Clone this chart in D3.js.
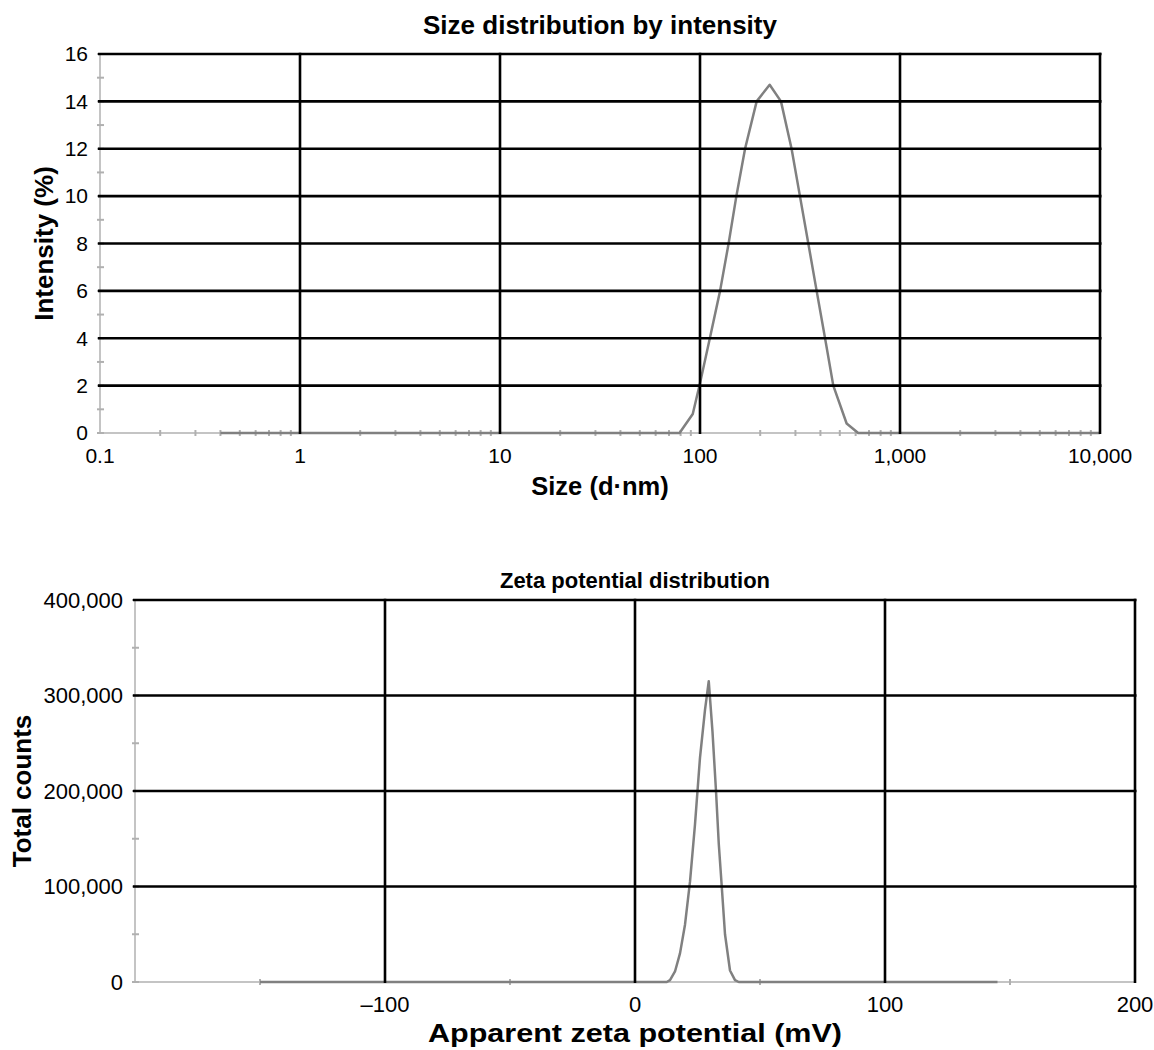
<!DOCTYPE html>
<html>
<head>
<meta charset="utf-8">
<script src="https://cdn.jsdelivr.net/npm/d3@7"></script>
<style>
  body { margin: 0; background: #fff; }
  text { font-family: "Liberation Sans", Arial, sans-serif; fill: #000; }
</style>
</head>
<body>
<script>
const width = 1154,
  height = 1050;

// size distribution by intensity
const sizeNm = [0.4, 79, 92, 100, 112, 126, 139, 152, 168, 192, 223, 254, 287, 316, 348, 383, 422, 464, 541, 618, 10000];
const intensity = [0, 0, 0.8, 2.1, 4.0, 6.0, 8.0, 10.0, 12.0, 14.0, 14.7, 14.0, 12.0, 10.0, 8.0, 6.0, 4.0, 2.0, 0.4, 0, 0];
const sizeTicks = [0.1, 1, 10, 100, 1000, 10000];
const intensityTicks = [0, 2, 4, 6, 8, 10, 12, 14, 16];
const intensityMinor = [1, 3, 5, 7, 9, 11, 13, 15];

// zeta potential distribution
const zetaMv = [-150, 12.7, 14, 16, 18, 20, 22, 24, 26, 28, 29.5, 31, 32.4, 33.5, 34.7, 36, 38, 40, 41.5, 145];
const zetaCounts = [0, 0, 2000, 11000, 30000, 60000, 105000, 165000, 235000, 285000, 315000, 262000, 200000, 145000, 100000, 50000, 12000, 2000, 0, 0];
const zetaTicks = [-200, -100, 0, 100, 200];
const zetaMinor = [-150, -50, 50, 150];
const countTicks = [0, 100000, 200000, 300000, 400000];
const countMinor = [50000, 150000, 250000, 350000];

const svg = d3
  .select("body")
  .append("svg")
  .attr("width", width)
  .attr("height", height);

function drawPanel(p) {
  const g = svg.append("g");
  const x = p.x, y = p.y;
  const [x0, x1] = x.range();
  const [y0, y1] = y.range();

  // light grey axes with small ticks
  g.append("line")
    .attr("x1", x0).attr("x2", x0).attr("y1", y0).attr("y2", y1)
    .attr("stroke", "#c4c4c4").attr("stroke-width", 2);
  g.append("line")
    .attr("x1", x0).attr("x2", x1).attr("y1", y0).attr("y2", y0)
    .attr("stroke", "#c4c4c4").attr("stroke-width", 2);

  g.selectAll("line.yminor")
    .data(p.yMinor.concat(p.yTicks))
    .enter()
    .append("line")
    .attr("x1", x0 - 3).attr("x2", x0 + 4)
    .attr("y1", d => y(d)).attr("y2", d => y(d))
    .attr("stroke", "#b0b0b0").attr("stroke-width", 2);

  g.selectAll("line.xminor")
    .data(p.xMinor)
    .enter()
    .append("line")
    .attr("x1", d => x(d)).attr("x2", d => x(d))
    .attr("y1", y0 - 3).attr("y2", y0 + 3)
    .attr("stroke", "#b0b0b0").attr("stroke-width", 2);

  // data
  g.append("path")
    .datum(d3.zip(p.xs, p.ys))
    .attr("fill", "none")
    .attr("stroke", "#808080")
    .attr("stroke-width", 2.5)
    .attr("stroke-linejoin", "round")
    .attr("d", d3.line().x(d => x(d[0])).y(d => y(d[1])));

  // black grid, drawn over the curve
  g.selectAll("line.hgrid")
    .data(p.yTicks.slice(1))
    .enter()
    .append("line")
    .attr("x1", x0 - 2).attr("x2", x1 + 1.5)
    .attr("y1", d => y(d)).attr("y2", d => y(d))
    .attr("stroke", "#000").attr("stroke-width", 2.6);

  g.selectAll("line.vgrid")
    .data(p.xTicks.slice(1))
    .enter()
    .append("line")
    .attr("x1", d => x(d)).attr("x2", d => x(d))
    .attr("y1", y0 + 1).attr("y2", y1 - 1.3)
    .attr("stroke", "#000").attr("stroke-width", 2.6);

  // labels
  g.selectAll("text.ylab")
    .data(p.yTicks)
    .enter()
    .append("text")
    .attr("x", x0 - 12)
    .attr("y", d => y(d))
    .attr("dy", "0.35em")
    .attr("text-anchor", "end")
    .attr("font-size", p.tickSize)
    .text(p.yFormat);

  g.selectAll("text.xlab")
    .data(p.xLabels)
    .enter()
    .append("text")
    .attr("x", d => x(d))
    .attr("y", y0 + 30)
    .attr("text-anchor", "middle")
    .attr("font-size", p.tickSize)
    .text(p.xFormat);

  g.append("text")
    .attr("x", (x0 + x1) / 2)
    .attr("y", p.titleY)
    .attr("text-anchor", "middle")
    .attr("font-size", p.titleSize)
    .attr("font-weight", "bold")
    .text(p.title);

  const xt = g.append("text")
    .attr("x", (x0 + x1) / 2)
    .attr("y", p.xTitleY)
    .attr("text-anchor", "middle")
    .attr("font-size", p.xTitleSize)
    .attr("font-weight", "bold")
    .text(p.xTitle);
  // the bottom label is a bit stretched in the original
  if (p.xTitleWidth) {
    xt.attr("textLength", p.xTitleWidth).attr("lengthAdjust", "spacingAndGlyphs");
  }

  g.append("text")
    .attr("transform", `translate(${p.yTitleX},${(y0 + y1) / 2}) rotate(-90)`)
    .attr("text-anchor", "middle")
    .attr("font-size", 26)
    .attr("font-weight", "bold")
    .text(p.yTitle);
}

const sizeX = d3.scaleLog().domain([0.1, 10000]).range([100, 1100]);
const intensityY = d3.scaleLinear().domain([0, 16]).range([433, 54]);

drawPanel({
  x: sizeX,
  y: intensityY,
  xs: sizeNm,
  ys: intensity,
  xTicks: sizeTicks,
  xLabels: sizeTicks,
  xMinor: sizeX.ticks().filter(d => !sizeTicks.includes(d)),
  yTicks: intensityTicks,
  yMinor: intensityMinor,
  xFormat: d => (d < 1 ? "0.1" : d3.format(",")(d)),
  yFormat: d => d,
  tickSize: 21,
  title: "Size distribution by intensity",
  titleSize: 26,
  titleY: 34,
  xTitle: "Size (d\u00b7nm)",
  xTitleSize: 25.5,
  xTitleY: 495,
  yTitle: "Intensity (%)",
  yTitleX: 53
});

const zetaX = d3.scaleLinear().domain([-200, 200]).range([135, 1135]);
const countY = d3.scaleLinear().domain([0, 400000]).range([982, 600]);

drawPanel({
  x: zetaX,
  y: countY,
  xs: zetaMv,
  ys: zetaCounts,
  xTicks: zetaTicks,
  xLabels: zetaTicks.slice(1),
  xMinor: zetaMinor,
  yTicks: countTicks,
  yMinor: countMinor,
  xFormat: d => (d < 0 ? "\u2013" + Math.abs(d) : d),
  yFormat: d3.format(","),
  tickSize: 22,
  title: "Zeta potential distribution",
  titleSize: 22,
  titleY: 588,
  xTitle: "Apparent zeta potential (mV)",
  xTitleSize: 26,
  xTitleY: 1042,
  xTitleWidth: 414,
  yTitle: "Total counts",
  yTitleX: 31
});
</script>
</body>
</html>
